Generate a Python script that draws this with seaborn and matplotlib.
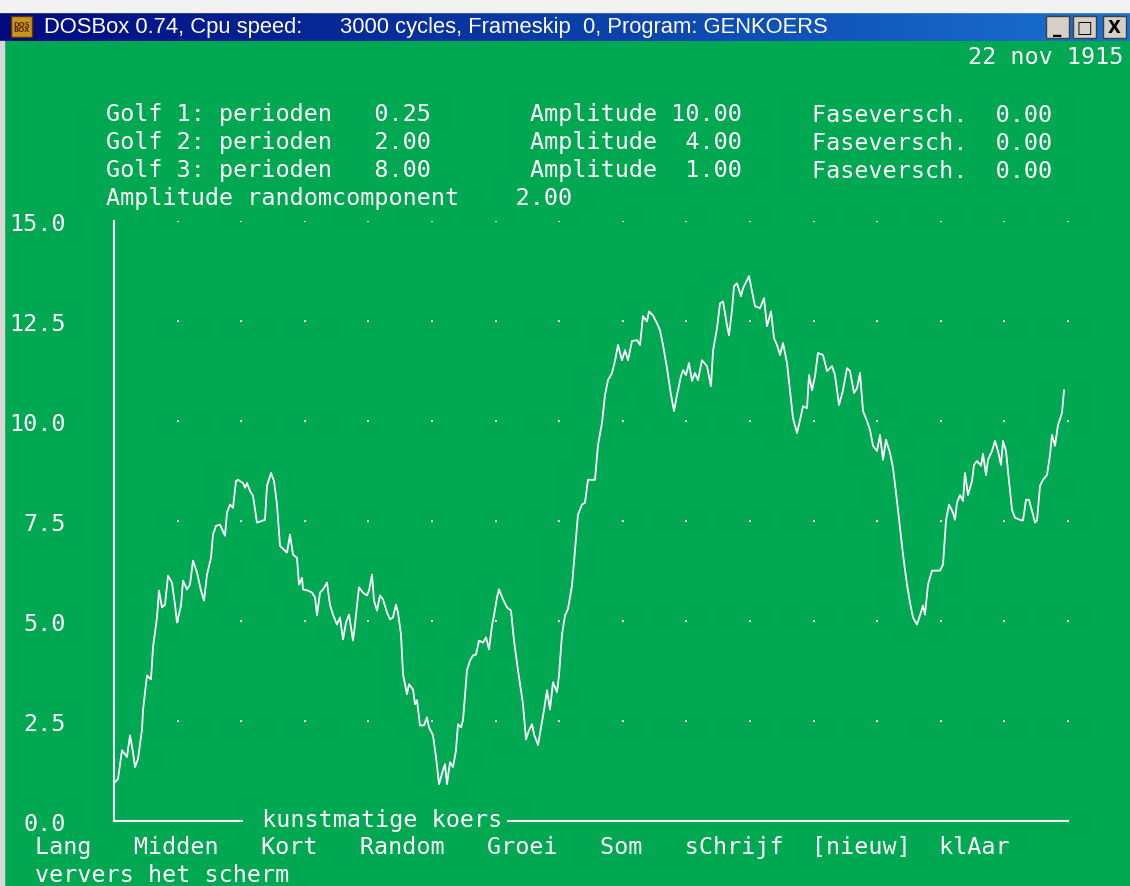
import numpy as np
import pandas as pd
import seaborn as sns
import matplotlib.pyplot as plt
from matplotlib.patches import Rectangle
from matplotlib.colors import LinearSegmentedColormap

# Figure formatting
sns.set_theme(style="white")
plt.rcParams['font.family'] = ['DejaVu Sans Mono', 'DejaVu Sans']
GREEN = '#00a852'
MONO = 'DejaVu Sans Mono'
FS = 16.8

t = [1, 4, 8, 11, 13, 16, 19, 21, 24, 28, 29, 33, 37, 39, 43, 45, 48, 51, 54, 58,
     61, 63, 67, 69, 73, 76, 79, 83, 87, 90, 93, 97, 99, 102, 106, 111, 113, 116, 119, 122,
     124, 129, 131, 133, 136, 139, 143, 151, 153, 157, 160, 163, 166, 170, 173, 176, 179, 183, 185, 188,
     189, 194, 198, 201, 203, 206, 209, 213,
     216, 219, 223, 226, 229, 232, 235, 239, 241, 243, 245, 249, 253, 255, 258, 260, 263, 266, 269, 273,
     276, 279, 282, 284, 287, 289, 293, 295, 299, 301, 303, 306, 310, 313, 315, 319, 322, 325, 329, 331,
     333, 336, 339, 342, 344, 347, 349, 353, 356, 359, 362, 365, 369, 372, 375, 378, 380, 383, 385, 389,
     393, 397, 400, 404, 409, 412, 415, 418, 420, 424, 427, 430, 433, 436, 439, 443, 445, 448, 451, 454,
     458, 461, 464, 468, 471, 474, 481, 484, 488, 491, 494, 498, 501, 504, 508, 511, 514, 518, 523, 526,
     529, 533, 535, 539, 543, 546, 549, 553, 557, 560, 563, 567, 569, 572, 575, 578, 581, 584, 588, 593,
     597, 599, 603, 606, 609, 613, 615, 618, 620, 623, 627, 629, 633, 635, 638, 641, 646, 650, 653, 657,
     660, 663, 666, 669, 673, 676, 679, 683, 686, 689, 693, 695, 698, 701, 704, 709, 713, 718, 721, 725,
     729, 733, 736, 740, 743, 746, 749, 753, 756, 759, 763, 766, 769, 772, 776, 779, 783, 786, 789, 793,
     796, 799, 803, 806, 809, 811, 814, 818, 826, 829, 832, 835, 839, 841, 843, 846, 849, 851, 854, 858,
     860, 863, 867, 869, 872, 874, 878, 881, 884, 887, 889, 892, 894, 898, 901, 906, 909, 912, 915, 919,
     921, 923, 926, 929, 933, 936, 938, 941, 944, 948, 950]
koers = [0.97, 1.05, 1.77, 1.67, 1.60, 2.14, 1.72, 1.35, 1.55, 2.29, 2.77, 3.64, 3.54, 4.34, 5.09, 5.76, 5.34, 5.41, 6.13, 5.96,
         5.41, 4.96, 5.39, 6.01, 5.79, 5.91, 6.51, 6.21, 5.76, 5.51, 6.16, 6.58, 7.16, 7.38, 7.41, 7.13, 7.71, 7.91, 7.83, 8.50,
         8.53, 8.45, 8.33, 8.45, 8.25, 8.13, 7.46, 7.53, 8.38, 8.70, 8.50, 7.91, 6.88, 6.78, 6.71, 7.16, 6.66, 6.58, 5.91, 6.08,
         5.79, 5.76, 5.71, 5.59, 5.14, 5.71, 5.79, 5.96,
         5.40, 5.16, 4.91, 5.09, 4.54, 4.96, 5.16, 4.51, 4.91, 5.39, 5.84, 5.71, 5.64, 5.76, 6.16, 5.51, 5.26, 5.64, 5.54, 5.21,
         5.04, 5.09, 5.41, 5.21, 4.66, 3.67, 3.17, 3.42, 3.29, 2.92, 3.02, 2.39, 2.39, 2.59, 2.34, 2.14, 1.60, 0.92, 1.27, 1.42,
         0.92, 1.47, 1.35, 1.77, 2.42, 2.34, 2.52, 3.77, 4.01, 4.14, 4.16, 4.51, 4.46, 4.59, 4.29, 4.89, 5.14, 5.59, 5.79, 5.54,
         5.34, 5.26, 4.51, 3.77, 2.92, 2.04, 2.27, 2.42, 2.17, 1.90, 2.34, 2.77, 3.27, 2.79, 3.47, 3.22, 3.64, 4.66, 5.14, 5.30,
         5.89, 6.78, 7.66, 7.91, 7.96, 8.53, 8.53, 9.40, 9.95, 10.65, 11.02, 11.20, 11.50, 11.90, 11.52, 11.77, 11.52, 12.00, 12.02, 11.90,
         12.62, 12.49, 12.74, 12.64, 12.44, 12.27, 11.90, 11.32, 10.65, 10.25, 10.65, 11.12, 11.27, 11.15, 11.45, 11.00, 11.20, 11.02, 11.52, 11.37,
         10.87, 11.75, 12.32, 12.94, 12.99, 12.39, 12.14, 12.77, 13.37, 13.44, 13.12, 13.32, 13.52, 13.62, 13.24, 12.87, 12.82, 13.07, 12.37, 12.74,
         12.07, 11.90, 11.65, 11.95, 11.45, 10.75, 10.07, 9.70, 10.02, 10.37, 10.32, 11.15, 10.77, 11.12, 11.70, 11.65, 11.25, 11.37, 11.15, 10.40,
         10.77, 11.32, 11.25, 10.70, 10.82, 11.20, 10.25, 10.00, 9.78, 9.38, 9.25, 9.65, 9.03, 9.53, 9.20, 8.83, 8.00, 7.33, 6.66, 5.91,
         5.46, 5.09, 4.91, 5.14, 5.39, 5.16, 5.91, 6.26, 6.26, 6.41, 7.51, 7.91, 7.71, 7.53, 7.96, 8.15, 8.00, 8.70, 8.15, 8.50,
         8.90, 9.00, 8.88, 9.18, 8.65, 9.03, 9.25, 9.50, 9.25, 8.90, 9.50, 9.25, 8.75, 7.78, 7.58, 7.53, 7.51, 8.03, 8.03, 7.66,
         7.46, 7.51, 8.38, 8.53, 8.65, 9.15, 9.65, 9.38, 9.90, 10.20, 10.77]

y_ticks = [0.0, 2.5, 5.0, 7.5, 10.0, 12.5, 15.0]
t_max = 954
n_cols = 15

golf_perioden = ['0.25', '2.00', '8.00']
golf_amplitude = ['10.00', ' 4.00', ' 1.00']
golf_fase = ['0.00', '0.00', '0.00']
random_amp = '2.00'
datum = '22 nov 1915'
menu = 'Lang   Midden   Kort   Random   Groei   Som   sChrijf  [nieuw]  klAar'
titel = ['DOSBox 0.74, Cpu speed:', '3000 cycles, Frameskip  0, Program: GENKOERS']

W, H = 1130, 887
def fx(x):
    return x / W
def fy(y):
    return 1 - y / H

fig = plt.figure(figsize=(W / 100, H / 100), dpi=100)
fig.patch.set_facecolor(GREEN)

# window chrome
fig.patches.append(Rectangle((0, fy(13)), 1, 13 / H, transform=fig.transFigure, color='#f2f2f2', zorder=0))
fig.patches.append(Rectangle((0, 0), fx(4), fy(42), transform=fig.transFigure, color='#d8d8d8', zorder=5))
tb = fig.add_axes([0, fy(42), 1, 29 / H])
cmap = LinearSegmentedColormap.from_list('tb', ['#000a80', '#0a3ea8', '#1a72d0'])
tb.imshow(np.linspace(0, 1, 256)[None, :], aspect='auto', cmap=cmap, extent=[0, 1, 0, 1])
tb.axis('off')
fig.patches.append(Rectangle((fx(11), fy(38)), 21 / W, 21 / H, transform=fig.transFigure,
                             facecolor='#c9961a', edgecolor='#5a3300', lw=1, zorder=6))
fig.text(fx(21.5), fy(27.5), 'DOS\nBOX', color='#5a2a00', fontsize=5, ha='center', va='center',
         family='DejaVu Sans', weight='bold', linespacing=0.9, zorder=7)
fig.text(fx(44), fy(27), titel[0], color='white', fontsize=15.8, family='Liberation Sans', va='center', zorder=7)
fig.text(fx(340), fy(27), titel[1], color='white', fontsize=15.8, family='Liberation Sans', va='center', zorder=7)
for bx, glyph in zip([1046, 1073, 1103], ['_', '\u25a1', 'X']):
    fig.patches.append(Rectangle((fx(bx), fy(39)), 23 / W, 22 / H, transform=fig.transFigure,
                                 facecolor='#d4d0c8', edgecolor='#404040', lw=1, zorder=6))
    fig.text(fx(bx + 11.5), fy(28), glyph, color='black', fontsize=12, ha='center', va='center',
             family='DejaVu Sans', weight='bold', zorder=7)

# header texts
fig.text(fx(1123), fy(58), datum, color='white', fontsize=FS, family=MONO, ha='right', va='center')
for i in range(3):
    yy = fy(115 + 28 * i)
    fig.text(fx(106), yy, f'Golf {i + 1}: perioden   {golf_perioden[i]}', color='white', fontsize=FS, family=MONO, va='center')
    fig.text(fx(530), yy, f'Amplitude {golf_amplitude[i]}', color='white', fontsize=FS, family=MONO, va='center')
    fig.text(fx(812), yy, f'Faseversch.  {golf_fase[i]}', color='white', fontsize=FS, family=MONO, va='center')
fig.text(fx(106), fy(199), f'Amplitude randomcomponent    {random_amp}', color='white', fontsize=FS, family=MONO, va='center')

# chart
ax = fig.add_axes([fx(114), fy(822), (1068 - 114) / W, 600 / H])
ax.set_facecolor('none')
ax.set_xlim(0, t_max)
ax.set_ylim(0, 15)

gx, gy = np.meshgrid(np.linspace(0, t_max, n_cols + 1)[1:], y_ticks[1:])
sns.scatterplot(x=gx.ravel(), y=gy.ravel(), ax=ax, marker='s', s=3.5, color='white', linewidth=0)

df = pd.DataFrame({'t': t, 'koers': koers})
sns.lineplot(data=df, x='t', y='koers', ax=ax, color='white', lw=1.3, sort=False, estimator=None)

for side in ['top', 'right']:
    ax.spines[side].set_visible(False)
for side in ['left', 'bottom']:
    ax.spines[side].set_color('white')
    ax.spines[side].set_linewidth(1.5)
ax.set_xticks([])
ax.set_yticks(y_ticks)
ax.set_yticklabels([f'{v:.1f}' for v in y_ticks])
ax.tick_params(axis='y', direction='inout', length=8, width=1.5, color='white',
               labelcolor='white', labelsize=FS, pad=31)
for lab in ax.get_yticklabels():
    lab.set_family(MONO)
ax.set_xlabel('')
ax.set_ylabel('')
ax.grid(False)

fig.text(fx(248), fy(821), ' kunstmatige koers', color='white', fontsize=FS, family=MONO, va='center',
         bbox=dict(facecolor=GREEN, edgecolor='none', boxstyle='square,pad=0.2'), zorder=10)

# menu
fig.text(fx(35), fy(848), menu, color='white', fontsize=FS, family=MONO, va='center')
fig.text(fx(35), fy(876), 'ververs het scherm', color='white', fontsize=FS, family=MONO, va='center')

fig.savefig('out.png', dpi=100, facecolor=fig.get_facecolor())
